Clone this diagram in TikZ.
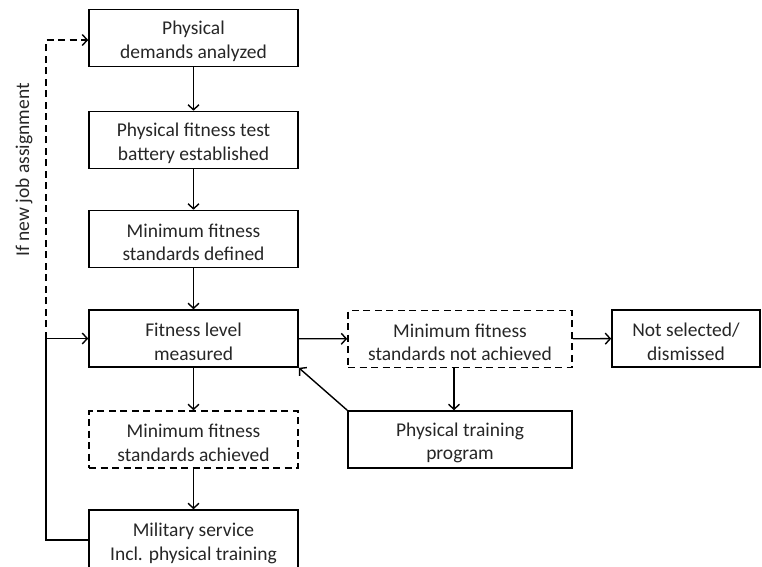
\documentclass[tikz,border=0pt]{standalone}
\usepackage{fontspec}
\setmainfont{Carlito}
\usepackage{tikz}
\usetikzlibrary{arrows.meta}
\definecolor{txgray}{rgb}{0.15, 0.15, 0.15}

\tikzset{
  stage/.style={draw, line width=1.6pt, minimum width=209pt, minimum height=57pt,
    align=center, text=txgray, font=\fontsize{19.5}{23.5}\selectfont, inner sep=0pt,
    execute at begin node=\rule{0pt}{44pt}},
  dstage/.style={stage, dash pattern=on 7pt off 4.5pt},
  link/.style={-{Straight Barb[length=5pt,width=11pt]}, line width=1.4pt}
}

\begin{document}
\begin{tikzpicture}[x=1pt, y=-1pt]
\useasboundingbox (0,0) rectangle (762,566);
\clip (0,0) rectangle (762,566);
\node[stage] (dem) at (193.5,38) {Physical\\demands analyzed};
\node[stage] (bat) at (193.5,140) {Physical fitness test\\battery established};
\node[stage] (std) at (193.5,239) {Minimum fitness\\standards defined};
\node[stage] (lvl) at (193.5,338.5) {Fitness level\\measured};
\node[dstage] (ach) at (193.5,439.5) {Minimum fitness\\standards achieved};
\node[stage, minimum height=60pt] (mil) at (193.5,540) {Military service\\Incl. physical training};
\node[dstage, minimum width=224pt] (nach) at (460,339) {Minimum fitness\\standards not achieved};
\node[stage, minimum width=224pt] (prog) at (460,439.5) {Physical training\\program};
\node[stage, minimum width=148pt] (nsel) at (686,338.5) {Not selected/\\dismissed};
\node[rotate=90, text=txgray, font=\fontsize{19.5}{23.5}\selectfont] (lbl) at (24,170) {If new job assignment};
\coordinate (lp) at (46,0);

\draw [link] (dem) -- (bat);
\draw [link] (bat) -- (std);
\draw [link] (std) -- (lvl);
\draw [link] (lvl) -- (ach);
\draw [link] (ach) -- (mil);
\draw [link] (lvl) -- (nach);
\draw [link] (nach) -- (nsel);
\draw [link] ([xshift=-6pt]nach.south) -- ([xshift=-6pt]prog.north);
\draw [link] (prog.north west) -- (lvl.south east);
\draw [link] (mil.west) -- (mil.west -| lp) -- (lvl.west -| lp) -- (lvl.west);
\draw [link, dash pattern=on 7pt off 4.5pt] (lvl.west -| lp) |- ([yshift=-2pt]dem.west);
\end{tikzpicture}
\end{document}
